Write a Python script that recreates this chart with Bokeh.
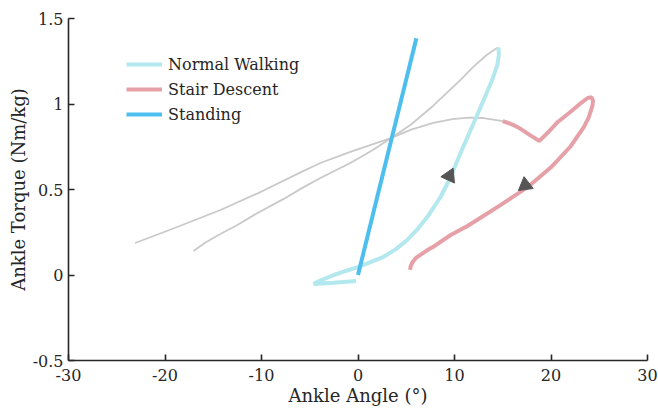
import math
from bokeh.plotting import figure
from bokeh.models import (Range1d, FixedTicker, CustomJSTickFormatter, Legend, LegendItem)
from bokeh.embed import file_html
from bokeh.resources import INLINE

# ---------------- data ----------------
walk_gray_x = [-17.05, -15.8, -14.5, -12.5, -10.5, -7.7, -5.9, -3.9, -0.8, 1.5, 3.4, 5.5, 7.8,
               10.6, 12.0, 13.3, 14.2, 14.55]
walk_gray_y = [0.14, 0.19, 0.232, 0.292, 0.36, 0.445, 0.505, 0.567, 0.655, 0.73, 0.80, 0.88, 0.99,
               1.14, 1.22, 1.285, 1.32, 1.33]

walk_x = [-0.2, -2.5, -4.6, -3.8, -2.5, -1.2, 0.05, 1.3, 2.6, 3.9, 5.1, 6.2, 7.2, 8.55, 9.6,
          10.6, 12.0, 13.0, 13.9, 14.45, 14.6, 14.55]
walk_y = [-0.035, -0.045, -0.052, -0.03, 0.0, 0.025, 0.047, 0.075, 0.105, 0.15, 0.205, 0.27,
          0.34, 0.456, 0.573, 0.71, 0.89, 1.02, 1.14, 1.23, 1.29, 1.33]

stair_gray_x = [-23.1, -19.0, -14.25, -10.1, -5.96, -3.9, -0.8, 3.4, 5.5, 7.8, 9.8, 11.5, 13.0, 15.0]
stair_gray_y = [0.187, 0.275, 0.38, 0.485, 0.60, 0.655, 0.72, 0.80, 0.85, 0.89, 0.912, 0.92,
                0.918, 0.90]

stair_x = [15.0, 16.0, 16.85, 17.9, 18.8, 19.8, 20.7, 22.0, 23.2, 23.8, 24.2, 24.35, 24.3, 23.9,
           23.4, 22.0, 20.0, 17.6, 14.8, 12.7, 11.3, 9.6, 7.8, 7.2, 6.0, 5.65, 5.45, 5.4]
stair_y = [0.90, 0.88, 0.855, 0.815, 0.784, 0.84, 0.895, 0.953, 1.01, 1.035, 1.04, 1.02, 0.99,
           0.92, 0.865, 0.75, 0.63, 0.515, 0.41, 0.335, 0.285, 0.234, 0.165, 0.146, 0.1, 0.075,
           0.05, 0.03]

stand_x = [0.0, 6.05]
stand_y = [0.0, 1.385]

arrow_x = [9.48, 17.33]
arrow_y = [0.579, 0.525]
arrow_dir_deg = [-25.0, 128.0]   # counter-clockwise rotation from "up"

x_ticks = [-30, -20, -10, 0, 10, 20, 30]
x_tick_labels = ["-30", "-20", "-10", "0", "10", "20", "30"]
y_ticks = [-0.5, 0, 0.5, 1, 1.5]
y_tick_labels = ["-0.5", "0", "0.5", "1", "1.5"]

series_labels = ["Normal Walking", "Stair Descent", "Standing"]

# ---------------- styles ----------------
FONT = "DejaVu Serif"
C_GRAY = "#c9c9c9"
C_WALK = "#b2e8ee"
C_STAIR = "#e6a0a7"
C_STAND = "#4dbeee"
C_ARROW = "#555555"
C_AXIS = "#262626"

p = figure(width=658, height=410, output_backend="svg", toolbar_location=None,
           x_range=Range1d(-30, 30), y_range=Range1d(-0.5, 1.5),
           min_border_left=68, min_border_right=11, min_border_top=18, min_border_bottom=50)
p.outline_line_color = None
p.xgrid.visible = False
p.ygrid.visible = False
p.background_fill_color = "white"
p.border_fill_color = "white"

p.line(walk_gray_x, walk_gray_y, line_color=C_GRAY, line_width=1.8)
p.line(stair_gray_x, stair_gray_y, line_color=C_GRAY, line_width=1.8)
r_walk = p.line(walk_x, walk_y, line_color=C_WALK, line_width=4)
r_stair = p.line(stair_x, stair_y, line_color=C_STAIR, line_width=4)
r_stand = p.line(stand_x, stand_y, line_color=C_STAND, line_width=4)

p.scatter(x=arrow_x, y=arrow_y, marker="triangle", size=15,
          angle=[math.radians(a) for a in arrow_dir_deg],
          fill_color=C_ARROW, line_color=C_ARROW)

fmt_code = """
const i = tick_vals.findIndex(t => Math.abs(t - tick) < 1e-9);
return i >= 0 ? tick_text[i] : "";
"""
p.xaxis.ticker = FixedTicker(ticks=x_ticks)
p.xaxis.formatter = CustomJSTickFormatter(args=dict(tick_vals=x_ticks, tick_text=x_tick_labels), code=fmt_code)
p.yaxis.ticker = FixedTicker(ticks=y_ticks)
p.yaxis.formatter = CustomJSTickFormatter(args=dict(tick_vals=y_ticks, tick_text=y_tick_labels), code=fmt_code)

for ax in (p.xaxis[0], p.yaxis[0]):
    ax.axis_line_color = C_AXIS
    ax.axis_line_width = 1.6
    ax.major_tick_line_color = C_AXIS
    ax.major_tick_line_width = 1.6
    ax.major_tick_in = 6
    ax.major_tick_out = 0
    ax.minor_tick_line_color = None
    ax.major_label_text_font = FONT
    ax.major_label_text_font_size = "16px"
    ax.major_label_text_color = "#262626"
    ax.axis_label_text_font = FONT
    ax.axis_label_text_font_size = "18px"
    ax.axis_label_text_font_style = "normal"
    ax.axis_label_text_color = "#262626"
    ax.axis_label_standoff = 1

p.xaxis.axis_label = "Ankle Angle (°)"
p.yaxis.axis_label = "Ankle Torque (Nm/kg)"
p.xaxis.major_label_standoff = 8
p.yaxis.major_label_standoff = 5

legend = Legend(items=[LegendItem(label=series_labels[0], renderers=[r_walk]),
                       LegendItem(label=series_labels[1], renderers=[r_stair]),
                       LegendItem(label=series_labels[2], renderers=[r_stand])],
                location=(58, 236), margin=0, padding=0, spacing=5,
                glyph_width=36, glyph_height=20, label_height=20, label_standoff=6,
                label_text_font=FONT, label_text_font_size="16px", label_text_color="#262626",
                border_line_color=None, background_fill_alpha=0)
p.add_layout(legend, "center")

open("out.html", "w").write(file_html(p, INLINE))
